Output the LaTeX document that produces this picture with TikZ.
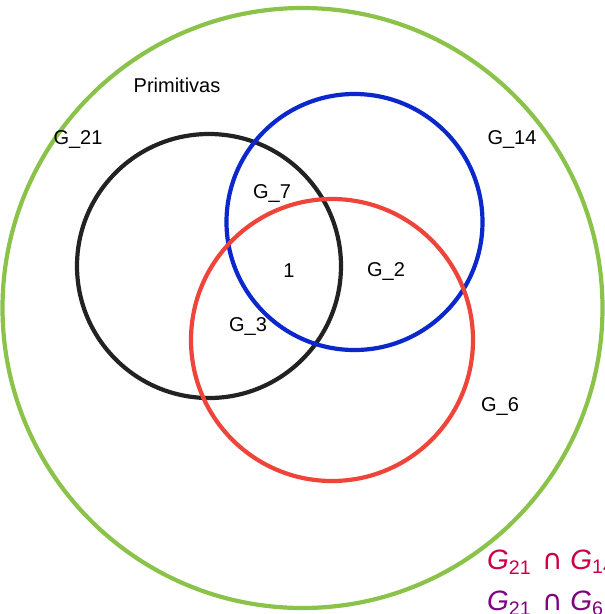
\documentclass[tikz,border=0pt]{standalone}
\usepackage{fontspec}
\setmainfont{Liberation Sans}
\newfontfamily\symfont{DejaVu Sans}
\usetikzlibrary{positioning}

\definecolor{setgreen}{RGB}{139,195,74}
\definecolor{setblue}{RGB}{10,40,204}
\definecolor{setred}{RGB}{238,68,58}
\definecolor{setblack}{RGB}{34,34,34}
\definecolor{exprcrimson}{RGB}{204,0,68}
\definecolor{exprpurple}{RGB}{128,0,128}

\begin{document}
\begin{tikzpicture}[x=1pt, y=-1pt,
  set/.style={line width=4.2pt},
  lbl/.style={font=\fontsize{20}{24}\selectfont, inner sep=0pt},
  expr/.style={font=\fontsize{28}{32}\selectfont, anchor=base west, inner sep=0pt}
]
\useasboundingbox[fill=white] (0,0) rectangle (605,614);

% Sets
\coordinate (c21) at (302.5, 308);
\coordinate (c3)  at (209, 266);
\coordinate (c14) at (354.5, 222);
\coordinate (c6)  at (332, 340);
\draw[set, setgreen] (c21) circle (300);
\draw[set, setblack] (c3)  circle (132);
\draw[set, setblue]  (c14) circle (128);
\draw[set, setred]   (c6)  circle (141);

% Labels
\node[lbl] (prim) at (177, 85)  {Primitivas};
\node[lbl] (g21)  at (78, 139)  {G\_21};
\node[lbl] (g14)  at (512, 139) {G\_14};
\node[lbl] (g7)   at (272, 193) {G\_7};
\node[lbl] (one)  at (289, 271) {1};
\node[lbl] (g2)   at (386, 271) {G\_2};
\node[lbl] (g3)   at (248, 326) {G\_3};
\node[lbl] (g6)   at (500, 406) {G\_6};

% Intersections (bottom right, cut by the page)
\node[expr, exprcrimson] (int14) at (487, 569)
  {\textit{G}\textsubscript{21}\hspace{3pt} {\symfont ∩} \textit{G}\textsubscript{14}};
\node[expr, exprpurple] (int6) at (487, 610)
  {\textit{G}\textsubscript{21}\hspace{3pt} {\symfont ∩} \textit{G}\textsubscript{6}};

\end{tikzpicture}
\end{document}
